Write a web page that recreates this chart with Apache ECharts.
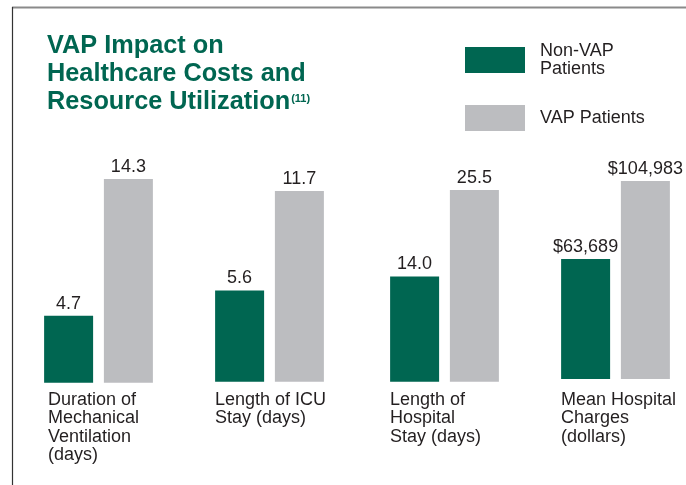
<!DOCTYPE html>
<html>
<head>
<meta charset="utf-8">
<script src="https://cdn.jsdelivr.net/npm/echarts@6/dist/echarts.min.js"></script>
<style>
  html, body { margin: 0; padding: 0; background: #ffffff; }
  #chart { width: 686px; height: 485px; }
</style>
</head>
<body>
<div id="chart"></div>
<script>
// ---- Data ----
const categories = [
  'Duration of\nMechanical\nVentilation\n(days)',
  'Length of ICU\nStay (days)',
  'Length of\nHospital\nStay (days)',
  'Mean Hospital\nCharges\n(dollars)'
];
const seriesNames = ['Non-VAP\nPatients', 'VAP Patients'];
const nonVapValues = [4.7, 5.6, 14.0, 63689];
const vapValues = [14.3, 11.7, 25.5, 104983];
const valuePrefix = ['', '', '', '$'];
const valueDecimals = [1, 1, 1, 0];

// ---- Layout (per panel) ----
const gridLeft = [44, 215, 390, 561];
const gridWidth = 109;
const gridBottomY = [382.7, 381.7, 381.7, 379];
const gridTopY = 150;
const axisMax = [16.34, 14.22, 30.82, 121420];
const labelTopY = 390.5;
const labelIndent = [4, 0, 0, 0];

const GREEN = '#006651';
const GRAY = '#bcbdc0';
const TEXT = '#231f20';
const FONT = '"Liberation Sans", Arial, Helvetica, sans-serif';

const chart = echarts.init(document.getElementById('chart'), null, { renderer: 'canvas' });

const grids = [], xAxes = [], yAxes = [], series = [];
categories.forEach((cat, i) => {
  grids.push({
    left: gridLeft[i],
    width: gridWidth,
    top: gridTopY,
    height: gridBottomY[i] - gridTopY
  });
  xAxes.push({
    type: 'category',
    gridIndex: i,
    data: [cat],
    axisLine: { show: false },
    axisTick: { show: false },
    axisLabel: {
      margin: labelTopY - gridBottomY[i],
      interval: 0,
      formatter: v => v.split('\n').map(s => '{l|' + s + '}').join('\n'),
      rich: {
        l: {
          width: gridWidth - labelIndent[i], align: 'left', fontSize: 18, lineHeight: 18.5,
          color: TEXT, fontFamily: FONT, padding: [0, 0, 0, labelIndent[i]]
        }
      }
    }
  });
  yAxes.push({
    type: 'value',
    gridIndex: i,
    min: 0,
    max: axisMax[i],
    show: false,
    splitLine: { show: false }
  });
  const fmt = p => valuePrefix[i] + Number(p.value).toLocaleString('en-US', {
    minimumFractionDigits: valueDecimals[i],
    maximumFractionDigits: valueDecimals[i]
  });
  [nonVapValues, vapValues].forEach((arr, s) => {
    series.push({
      type: 'bar',
      name: seriesNames[s],
      xAxisIndex: i,
      yAxisIndex: i,
      data: [arr[i]],
      barWidth: 49,
      barGap: '22%',
      itemStyle: { color: s === 0 ? GREEN : GRAY },
      emphasis: { disabled: true },
      label: {
        show: true,
        position: 'top',
        distance: 3,
        fontSize: 18,
        color: TEXT,
        fontFamily: FONT,
        formatter: fmt
      }
    });
  });
});

chart.setOption({
  animation: false,
  backgroundColor: '#ffffff',
  title: {
    text: 'VAP Impact on\nHealthcare Costs and\nResource Utilization{sup|(11)}',
    left: 47,
    top: 32,
    padding: 0,
    textStyle: {
      fontFamily: FONT,
      fontSize: 25.3,
      fontWeight: 'bold',
      lineHeight: 28,
      color: GREEN,
      rich: {
        sup: { fontSize: 11, fontWeight: 'bold', color: GREEN, fontFamily: FONT, verticalAlign: 'top', lineHeight: 28, padding: [5, 0, 0, 1] }
      }
    }
  },
  legend: {
    orient: 'vertical',
    left: 465,
    top: 40.5,
    padding: 0,
    itemWidth: 60,
    itemHeight: 26,
    itemGap: 25.5,
    icon: 'rect',
    selectedMode: false,
    data: seriesNames,
    textStyle: { fontFamily: FONT, fontSize: 18, lineHeight: 18, color: TEXT, padding: [3, 0, 0, 10] }
  },
  graphic: [
    { type: 'line', shape: { x1: 12, y1: 7.5, x2: 686, y2: 7.5 }, style: { stroke: '#8a8a8a', lineWidth: 2 } },
    { type: 'line', shape: { x1: 12.5, y1: 7, x2: 12.5, y2: 485 }, style: { stroke: '#333333', lineWidth: 1.2 } }
  ],
  grid: grids,
  xAxis: xAxes,
  yAxis: yAxes,
  series: series
});
</script>
</body>
</html>
